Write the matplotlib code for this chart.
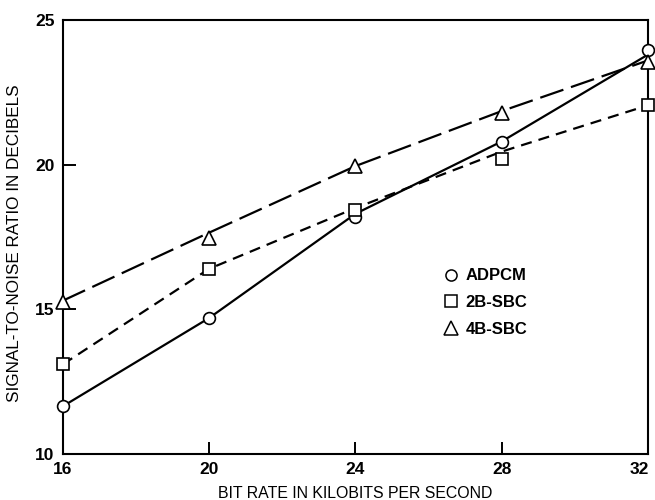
import matplotlib
matplotlib.use("Agg")
import matplotlib.pyplot as plt
from matplotlib.lines import Line2D
import matplotlib.transforms as mtransforms

plt.rcParams['font.family'] = ['Liberation Sans', 'DejaVu Sans']

bit_rate = [16, 20, 24, 28, 32]

# measured points
adpcm = [11.65, 14.7, 18.2, 20.8, 23.95]
sbc2 = [13.1, 16.4, 18.45, 20.2, 22.05]
sbc4 = [15.25, 17.45, 19.95, 21.8, 23.55]

# drawn (fitted) curves at the same bit rates
adpcm_fit = [11.65, 14.7, 18.3, 20.8, 23.8]
sbc2_fit = [13.1, 16.4, 18.5, 20.45, 22.05]
sbc4_fit = [15.3, 17.65, 19.95, 21.85, 23.6]

xticks = [16, 20, 24, 28, 32]
yticks = [10, 15, 20, 25]

fig = plt.figure(figsize=(6.55, 5), dpi=100)
ax = fig.add_axes([0.096, 0.092, 0.893, 0.868])

lw = 1.6
ax.plot(bit_rate, adpcm_fit, color='black', lw=lw, zorder=2)
ax.plot(bit_rate, sbc2_fit, color='black', lw=lw, dashes=(5.0, 3.2), zorder=2)
ax.plot(bit_rate, sbc4_fit, color='black', lw=lw, dashes=(11, 3.6), zorder=2)

mk = dict(ls='none', mfc='white', mec='black', mew=1.2, ms=8.5, zorder=3,
          clip_on=False)
ax.plot(bit_rate, adpcm, marker='o', **mk)
ax.plot(bit_rate, sbc2, marker='s', **dict(mk, ms=8))
ax.plot(bit_rate, sbc4, marker='^', **dict(mk, ms=10))

ax.set_xlim(16, 32)
ax.set_ylim(10, 25)
ax.set_xticks(xticks)
ax.set_yticks(yticks)
ax.tick_params(direction='in', length=9, width=1.4, labelsize=12.5, pad=6)
ax.tick_params(axis='y', pad=6)
for lab in ax.get_xticklabels() + ax.get_yticklabels():
    lab.set_fontweight('bold')
# keep the last x label inside the figure
last = ax.get_xticklabels()[-1]
last.set_transform(last.get_transform() +
                   mtransforms.ScaledTranslation(-6 / 72, 0, fig.dpi_scale_trans))
for s in ax.spines.values():
    s.set_linewidth(1.5)

ax.set_xlabel('BIT RATE IN KILOBITS PER SECOND', fontsize=11.4, labelpad=6)
ax.set_ylabel('SIGNAL-TO-NOISE RATIO IN DECIBELS', fontsize=12.3, labelpad=4)
ax.yaxis.set_label_coords(-0.07, 0.485)

handles = [
    Line2D([], [], ls='none', marker='o', mfc='white', mec='black', mew=1.1, ms=8),
    Line2D([], [], ls='none', marker='s', mfc='white', mec='black', mew=1.1, ms=8),
    Line2D([], [], ls='none', marker='^', mfc='white', mec='black', mew=1.1, ms=9.5),
]
leg = ax.legend(handles, ['ADPCM', '2B-SBC', '4B-SBC'], loc='upper left',
                bbox_to_anchor=(0.627, 0.462), frameon=False, handlelength=0.8,
                handletextpad=0.45, labelspacing=0.7,
                prop={'weight': 'bold', 'size': 12})

fig.savefig('out.png', dpi=100)
